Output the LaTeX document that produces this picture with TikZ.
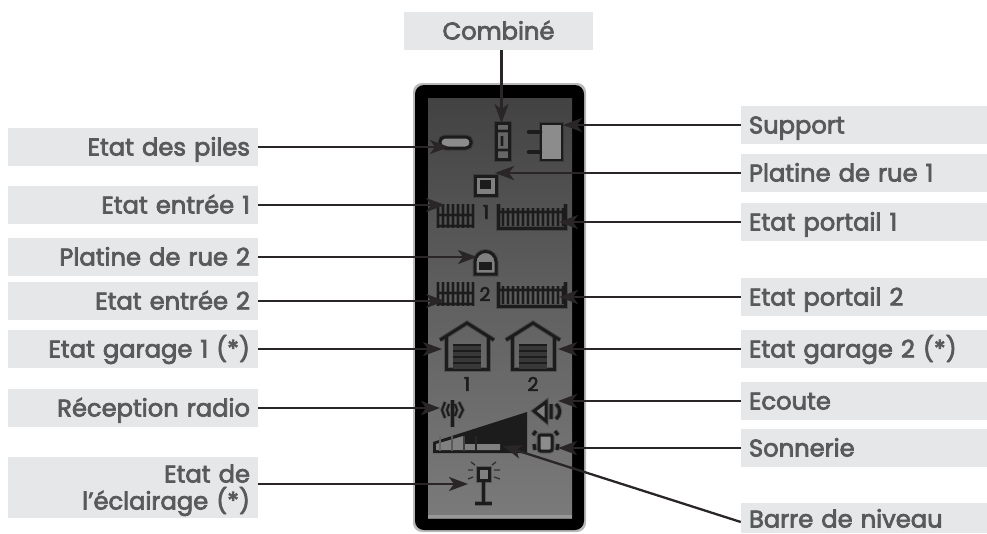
\documentclass[tikz,border=0pt]{standalone}
\usepackage{fontspec}
\setmainfont{Poppins}[RawFeature={embolden=3}]
\usetikzlibrary{arrows.meta}
\definecolor{fondetiq}{HTML}{E6E7E8}
\definecolor{texte}{HTML}{58595B}
\definecolor{fil}{HTML}{2A2527}
\definecolor{lcd}{HTML}{1C1C1C}
\begin{document}
\begin{tikzpicture}[x=1pt,y=-1pt]
    \tikzstyle{every node} = [font=\fontsize{24.2}{27}\selectfont, text=texte]
    \tikzstyle{etiq} = [fill=fondetiq, minimum height=38pt, inner ysep=0pt, inner xsep=8pt, text height=17pt, text depth=0pt]
    \tikzstyle{gauche} = [etiq, text width=234pt, align=right]
    \tikzstyle{droite} = [etiq, text width=230pt, align=left]
    \tikzstyle{fleche} = [draw=fil, line width=2.3pt, -{Stealth[length=19pt,width=14pt,inset=5pt]}]
    \tikzstyle{trait} = [draw=lcd, line width=1.9pt, preaction={draw=lcd, opacity=.3, line width=3.6pt}]
    \tikzstyle{epais} = [draw=lcd, line width=3pt, preaction={draw=lcd, opacity=.3, line width=5pt}]
    \tikzstyle{chiffre} = [text=lcd, inner sep=0pt, font=\fontsize{19}{19}\selectfont]
    \useasboundingbox (0,0) rectangle (987,533);
    % boitier
    \fill[gray!55, rounded corners=9pt] (413,83) rectangle (586,532);
    \fill[black, rounded corners=9pt] (415,85) rectangle (584,530);
    \shade[top color=black!74, bottom color=black!52, middle color=black!62] (428,98) rectangle (572,518);
    \fill[black!40] (428,515) rectangle (572,518);
    % piles, combine, support
    \draw[epais, fill=black!45, rounded corners=5pt] (440,137) rectangle (471,148);
    \draw[epais, fill=black!60] (496,123) rectangle (509,159);
    \draw[trait] (496,131) -- (509,131) (496,150) -- (509,150) (502,136) -- (502,146);
    \draw[trait, fill=black!45] (541,124) rectangle (562,160);
    \draw[line width=4.5pt, draw=lcd, line cap=round] (529,132) -- (540,132) (529,152) -- (540,152);
    % platines
    \draw[epais, fill=black!50] (475,176) rectangle (496,195);
    \fill[lcd] (480,180) rectangle (491,189);
    \draw[epais, fill=black!50] (475,262) arc [start angle=180, end angle=360, radius=10.5] -- (496,274) -- (475,274) -- cycle;
    \fill[lcd] (479,262) rectangle (492,270);
    % portails
    \foreach \y/\num in {202/1,280/2} {
        \draw[trait] (437,\y+24) -- (473,\y+24) (437,\y+13) -- (473,\y+13);
        \foreach \x in {438,443,...,473}
            \draw[trait] (\x,\y+2) -- (\x,\y+26);
        \draw[epais] (498,\y+2) -- (498,\y+26) -- (565,\y+26) -- (565,\y+2);
        \draw[trait] (498,\y+10) -- (565,\y+10);
        \foreach \x in {503,508,...,563}
            \draw[trait] (\x,\y+6) -- (\x,\y+24);
    }
    \node[chiffre] (num1) at (486,212) {1};
    \node[chiffre] (num2) at (485,294) {2};
    % garages
    \foreach \x/\num in {467/1,533/2} {
        \draw[epais] (\x-27,340) -- (\x,323) -- (\x+27,340);
        \draw[epais] (\x-21,337) -- (\x-21,369) -- (\x+21,369) -- (\x+21,337);
        \fill[black!78] (\x-14,345) rectangle (\x+14,369);
        \foreach \y in {345,351,357,363}
            \draw[lcd, line width=1.8pt] (\x-14,\y) -- (\x+14,\y);
        \node[chiffre] (gar\num) at (\x,384) {\num};
    }
    % radio
    \draw[epais] (452,400) -- (452,427);
    \draw[trait] (445,402) -- (442,410) -- (445,418) (449,404) -- (447,410) -- (449,416)
        (459,402) -- (463,410) -- (459,418) (455,404) -- (457,410) -- (455,416);
    % ecoute
    \draw[epais, fill=black!50] (534,411) -- (546,402) -- (546,421) -- cycle;
    \draw[epais] (551,404) -- (551,419) (556,404) .. controls (561,408) and (561,415) .. (556,419);
    % barre
    \fill[lcd] (433,442) -- (527,412) -- (527,453) -- (433,453) -- cycle;
    \fill[black!50] (436,444) -- (470,434) -- (500,437) -- (500,450) -- (436,450) -- cycle;
    \fill[lcd] (463,434) rectangle (527,444);
    \foreach \x/\gris in {440/60,452/65,464/75,476/85} 
        \draw[black!\gris, line width=1.2pt] (\x,436) -- (\x,451);
    % sonnerie
    \draw[epais, fill=black!45, rounded corners=2pt] (539,435) rectangle (552,451);
    \draw[epais] (533,435) -- (536,431) (558,435) -- (555,431) (534,444) -- (535,450) (558,444) -- (557,450);
    % eclairage
    \draw[epais] (483,480) -- (483,503) (475,503) -- (492,503);
    \draw[epais, fill=black!50] (478,468) rectangle (489,480);
    \draw[black!80, line width=1.4pt] (468,470) -- (473,470) (471,462) -- (475,465) (494,470) -- (500,470)
        (496,462) -- (492,465) (468,479) -- (473,477) (500,479) -- (494,477);
    % etiquettes
    \node[etiq, minimum width=189pt] (combine) at (498.5,31) {Combiné};
    \node[gauche] (piles) at (133,147) {Etat des piles};
    \node[gauche] (entreeun) at (133,205) {Etat entrée 1};
    \node[gauche] (platinedeux) at (133,257) {Platine de rue 2};
    \node[gauche] (entreedeux) at (133,301) {Etat entrée 2};
    \node[gauche] (garageun) at (133,349) {Etat garage 1 (*)};
    \node[gauche] (radio) at (133,408) {Réception radio};
    \node[gauche, minimum height=61pt, text depth=27pt] (eclairage) at (133,487.5) {Etat de\\l’éclairage (*)};
    \node[droite] (support) at (864,125) {Support};
    \node[droite] (platineun) at (864,173) {Platine de rue 1};
    \node[droite] (portailun) at (864,222) {Etat portail 1};
    \node[droite] (portaildeux) at (864,297) {Etat portail 2};
    \node[droite] (garagedeux) at (864,349) {Etat garage 2 (*)};
    \node[droite] (ecoute) at (864,401) {Ecoute};
    \node[droite] (sonnerie) at (864,448) {Sonnerie};
    \node[droite, minimum height=30pt, text height=19pt] (barre) at (864,518) {Barre de niveau};
    % pointes
    \coordinate (pcombine) at (501.5,123);
    \coordinate (ppiles) at (449,147);
    \coordinate (pentreeun) at (445,205);
    \coordinate (pplatinedeux) at (477,257);
    \coordinate (pentreedeux) at (445,301);
    \coordinate (pgarageun) at (442,349);
    \coordinate (pradio) at (440,408);
    \coordinate (peclairage) at (468,484);
    \coordinate (psupport) at (563,125);
    \coordinate (pplatineun) at (495,173);
    \coordinate (pportailun) at (559,222);
    \coordinate (pportaildeux) at (559,297);
    \coordinate (pgaragedeux) at (558,349);
    \coordinate (pecoute) at (558,401);
    \coordinate (psonnerie) at (558,448);
    \coordinate (pbarre) at (503,446);
    \draw[fleche] (combine.south -| pcombine) -- (pcombine);
    \foreach \nom in {piles,entreeun,platinedeux,entreedeux,garageun,radio}
        \draw[fleche] (\nom.east) -- (p\nom);
    \draw[fleche] (eclairage.east |- peclairage) -- (peclairage);
    \foreach \nom in {support,platineun,portailun,portaildeux,garagedeux,ecoute,sonnerie}
        \draw[fleche] (\nom.west) -- (p\nom);
    \draw[fleche] ([yshift=-4pt]barre.west) -- (pbarre);
\end{tikzpicture}
\end{document}
